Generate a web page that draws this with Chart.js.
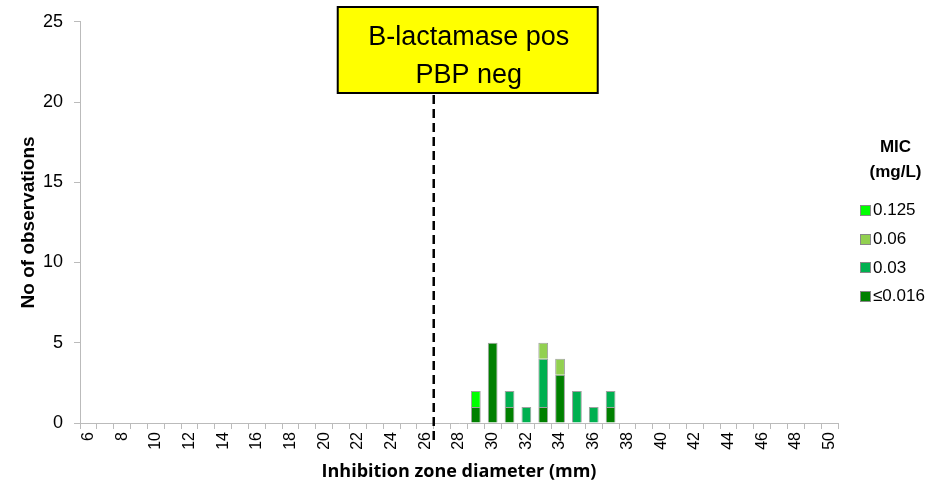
<!DOCTYPE html>
<html>
<head>
<meta charset="utf-8">
<script src="https://cdn.jsdelivr.net/npm/chart.js"></script>
<style>
body { margin: 0; background: #fff; }
#wrap { position: relative; width: 935px; height: 480px; }
#legend { position: absolute; left: 856px; top: 134px; width: 79px; font-family: 'Liberation Sans', Arial, sans-serif; font-size: 17px; color: #000; }
#legend .title { font-weight: bold; text-align: center; line-height: 25px; margin-bottom: 12px; }
#legend .item { height: 28.7px; display: flex; align-items: center; }
#legend .box { width: 9px; height: 9px; border: 1px solid #888; margin-right: 2px; margin-left: 4px; }
</style>
</head>
<body>
<div id="wrap">
<canvas id="micChart" width="935" height="480"></canvas>
<div id="legend"></div>
</div>
<script>
// zone diameters (mm)
var zones = ['6','7','8','9','10','11','12','13','14','15','16','17','18','19','20','21','22','23','24','25','26','27','28','29','30','31','32','33','34','35','36','37','38','39','40','41','42','43','44','45','46','47','48','49','50'];

// counts per MIC
//            6 7 8 9 10  12  14  16  18  20  22  24  26  28  30  32  34  36  38  40  42  44  46  48  50
var le016  = [0,0,0,0,0,0,0,0,0,0,0,0,0,0,0,0,0,0,0,0,0,0,0,1,5,1,0,1,3,0,0,1,0,0,0,0,0,0,0,0,0,0,0,0,0];
var mic003 = [0,0,0,0,0,0,0,0,0,0,0,0,0,0,0,0,0,0,0,0,0,0,0,0,0,1,1,3,0,2,1,1,0,0,0,0,0,0,0,0,0,0,0,0,0];
var mic006 = [0,0,0,0,0,0,0,0,0,0,0,0,0,0,0,0,0,0,0,0,0,0,0,0,0,0,0,1,1,0,0,0,0,0,0,0,0,0,0,0,0,0,0,0,0];
var mic0125= [0,0,0,0,0,0,0,0,0,0,0,0,0,0,0,0,0,0,0,0,0,0,0,1,0,0,0,0,0,0,0,0,0,0,0,0,0,0,0,0,0,0,0,0,0];

var breakpointAfter = '26';   // dashed line between 26 and 27
var boxLines = ['B-lactamase pos', 'PBP neg'];

var font = "'Liberation Sans', Arial, sans-serif";

var datasets = [
    { label: '≤0.016', data: le016, backgroundColor: '#008000' },
    { label: '0.03', data: mic003, backgroundColor: '#00b050' },
    { label: '0.06', data: mic006, backgroundColor: '#92d050' },
    { label: '0.125', data: mic0125, backgroundColor: '#00ff00' }
];
datasets.forEach(function (d) {
    d.borderColor = 'rgba(120,120,120,0.7)';
    d.borderWidth = 1;
    d.barPercentage = 0.58;
    d.categoryPercentage = 1;
});

var breakpointPlugin = {
    id: 'breakpoint',
    afterDraw: function (chart) {
        var c = chart.ctx;
        var xs = chart.scales.x;
        var i = zones.indexOf(breakpointAfter);
        var x = (xs.getPixelForTick(i) + xs.getPixelForTick(i + 1)) / 2;
        var bottom = chart.chartArea.bottom;
        c.save();
        c.strokeStyle = '#000';
        c.lineWidth = 2.5;
        c.setLineDash([9, 5]);
        c.beginPath();
        c.moveTo(x, 95);
        c.lineTo(x, bottom + 17);
        c.stroke();
        c.setLineDash([]);
        // label box
        var bx = x - 96, by = 7, bw = 260, bh = 86;
        c.fillStyle = '#ffff00';
        c.fillRect(bx, by, bw, bh);
        c.lineWidth = 2;
        c.strokeRect(bx, by, bw, bh);
        c.fillStyle = '#000';
        c.font = '27px ' + font;
        c.textAlign = 'center';
        c.textBaseline = 'alphabetic';
        c.fillText(boxLines[0], bx + bw / 2 + 1, by + 38);
        c.fillText(boxLines[1], bx + bw / 2 + 1, by + 76);
        c.restore();
    }
};

var ctx = document.getElementById('micChart').getContext('2d');
var chart = new Chart(ctx, {
    type: 'bar',
    data: { labels: zones, datasets: datasets },
    options: {
        responsive: false,
        animation: false,
        layout: { padding: { left: 13, right: 97, top: 20, bottom: 0 } },
        plugins: {
            legend: { display: false },
            tooltip: { enabled: false }
        },
        scales: {
            x: {
                stacked: true,
                offset: true,
                afterFit: function (s) { s.height = 57; },
                grid: { display: true, offset: true, drawOnChartArea: false, drawTicks: true, tickLength: 6, color: '#bbb' },
                border: { color: '#bbb' },
                ticks: {
                    autoSkip: false,
                    minRotation: 90,
                    maxRotation: 90,
                    padding: 3,
                    color: '#000',
                    font: { family: font, size: 16 },
                    callback: function (v, i) { return (+zones[i]) % 2 === 0 ? zones[i] : ''; }
                },
                title: { display: true, text: 'Inhibition zone diameter (mm)', color: '#000', font: { family: "'Open Sans', sans-serif", size: 18, weight: 'bold' }, padding: { top: 0, bottom: -3 } }
            },
            y: {
                stacked: true,
                min: 0,
                max: 25,
                afterFit: function (s) { s.width = 67; },
                grid: { display: true, drawOnChartArea: false, drawTicks: true, tickLength: 6, color: '#bbb' },
                border: { color: '#bbb' },
                ticks: { stepSize: 5, color: '#000', padding: 11, font: { family: font, size: 18 } },
                title: { display: true, text: 'No of observations', color: '#000', font: { family: font, size: 19, weight: 'bold' }, padding: { bottom: 0 } }
            }
        }
    },
    plugins: [breakpointPlugin]
});

// legend (top to bottom: highest MIC first)
var lg = document.getElementById('legend');
lg.innerHTML = '<div class="title">MIC<br>(mg/L)</div>';
datasets.slice().reverse().forEach(function (d) {
    lg.innerHTML += '<div class="item"><span class="box" style="background:' + d.backgroundColor + '"></span>' + d.label + '</div>';
});
</script>
</body>
</html>
